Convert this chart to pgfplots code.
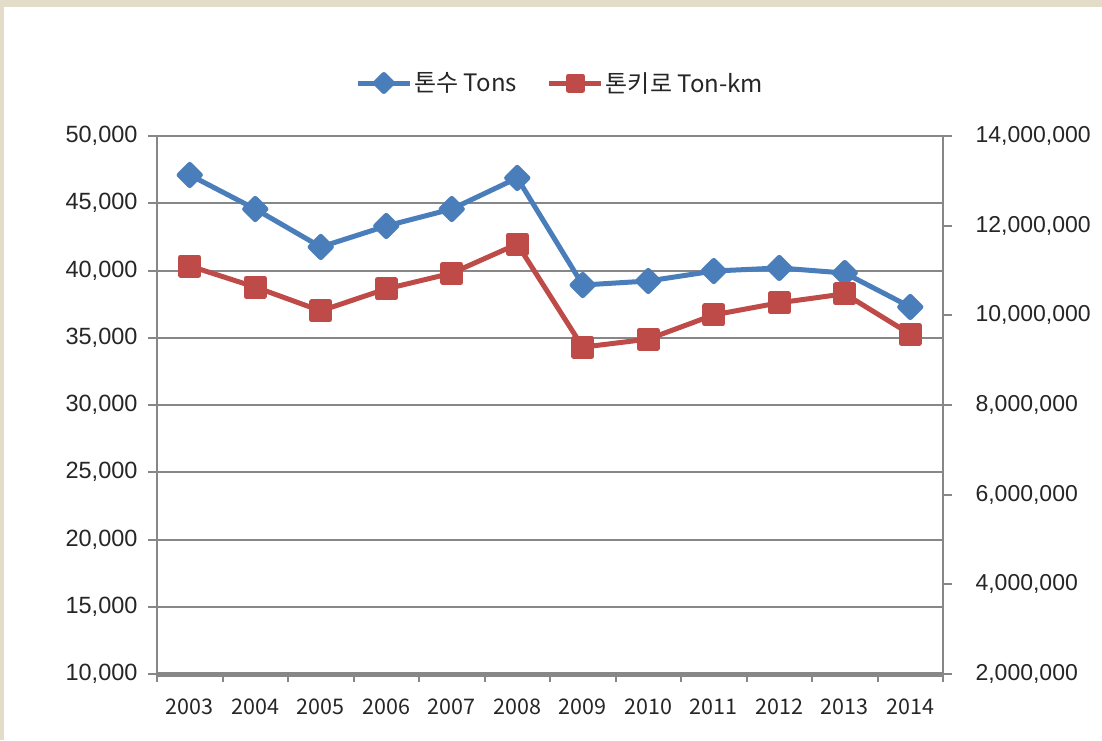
\documentclass[border=0pt]{standalone}
\usepackage{fontspec}
\setmainfont{Liberation Sans}
\newfontfamily\kr{Noto Sans CJK KR}
\usepackage{pgfplots}
\pgfplotsset{compat=1.18}
\definecolor{tonblue}{HTML}{4A7EBB}
\definecolor{tonred}{HTML}{BE4B48}
\definecolor{axgray}{HTML}{878787}
\definecolor{framebg}{HTML}{E3DCC8}
\pgfplotsset{
  base/.style={
    at={(157pt,66pt)}, anchor=south west,
    scale only axis, width=786pt, height=538pt,
    xmin=0.5, xmax=12.5,
    tick align=outside,
    major tick length=9pt,
    tick style={axgray, line width=2pt},
    scaled y ticks=false,
    /pgf/number format/.cd, fixed, 1000 sep={,}, assume math mode=true,
  },
  dia/.style={tonblue, line width=5pt, line join=round, mark=square*, mark size=7.5pt, mark options={rotate=45, solid}},
  sq/.style={tonred, line width=5pt, line join=round, mark=square*, mark size=9pt, mark options={solid}},
}
\begin{document}
\begin{tikzpicture}[x=1pt,y=1pt]
\fill[framebg] (0,0) rectangle (1102,740);
\fill[white] (4,0) rectangle (1102,733);

\begin{axis}[base,
  axis x line*=bottom, axis y line*=left,
  ymin=10000, ymax=50000,
  ytick={10000,15000,20000,25000,30000,35000,40000,45000,50000},
  ymajorgrids, grid style={axgray, line width=2pt},
  xtick={1,2,3,4,5,6,7,8,9,10,11,12},
  xticklabels={2003,2004,2005,2006,2007,2008,2009,2010,2011,2012,2013,2014},
  every major x tick/.append style={draw=none},
  minor xtick={0.5,1.5,2.5,3.5,4.5,5.5,6.5,7.5,8.5,9.5,10.5,11.5,12.5},
  minor tick length=8pt,
  x axis line style={axgray, line width=5pt, -},
  y axis line style={axgray, line width=2.5pt, -},
  xticklabel style={font=\kr\fontsize{21.5}{24}\selectfont, text=black!85, yshift=-12pt},
  yticklabel style={font=\fontsize{23.5}{27}\selectfont, text=black!85, xshift=-7pt},
]
\addplot[dia] coordinates {
(1,47100) (2,44570) (3,41750) (4,43310) (5,44570) (6,46880)
(7,38920) (8,39220) (9,39960) (10,40190) (11,39810) (12,37290)};
\end{axis}

\begin{axis}[base,
  axis x line=none, axis y line*=right,
  ymin=2000000, ymax=14000000,
  ytick={2000000,4000000,6000000,8000000,10000000,12000000,14000000},
  y axis line style={axgray, line width=2.5pt, -},
  yticklabel style={font=\fontsize{23}{27}\selectfont, text=black!85, xshift=20pt},
  legend columns=2,
  legend style={at={(0.513,1.0985)}, anchor=center, draw=none, fill=none,
    font=\kr\fontsize{24}{27}\selectfont, text=black!85,
    /tikz/every even column/.append style={column sep=28pt}},
  legend image code/.code={
    \draw[mark repeat=2, mark phase=2, #1] plot coordinates {(0pt,0pt) (26pt,0pt) (52pt,0pt)};
  },
]
\addlegendimage{dia, mark size=6pt}
\addlegendentry{톤수 Tons}
\addlegendimage{sq, mark size=7pt}
\addlegendentry{톤키로 Ton-km}
\addplot[sq, forget plot] coordinates {
(1,11100000) (2,10630000) (3,10100000) (4,10590000) (5,10940000) (6,11590000)
(7,9290000) (8,9470000) (9,10010000) (10,10280000) (11,10480000) (12,9580000)};
\end{axis}
\end{tikzpicture}
\end{document}
